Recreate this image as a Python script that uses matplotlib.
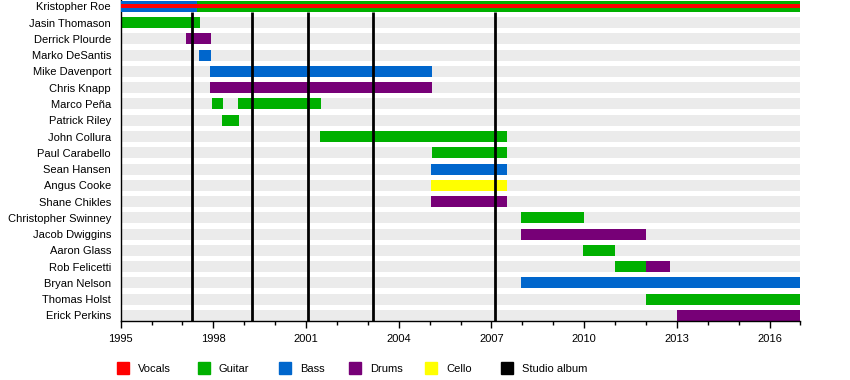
import matplotlib.pyplot as plt
from matplotlib.patches import Rectangle

plt.rcParams['font.family'] = ['Liberation Sans', 'DejaVu Sans']

members = ['Kristopher Roe', 'Jasin Thomason', 'Derrick Plourde', 'Marko DeSantis',
           'Mike Davenport', 'Chris Knapp', 'Marco Peña', 'Patrick Riley',
           'John Collura', 'Paul Carabello', 'Sean Hansen', 'Angus Cooke',
           'Shane Chikles', 'Christopher Swinney', 'Jacob Dwiggins', 'Aaron Glass',
           'Rob Felicetti', 'Bryan Nelson', 'Thomas Holst', 'Erick Perkins']

role_colors = {'Vocals': '#ff0000', 'Guitar': '#00b000', 'Bass': '#0066cc',
               'Drums': '#770077', 'Cello': '#ffff00', 'Studio album': '#000000'}

# (member, role, start, end)
periods = [
    ('Kristopher Roe', 'Bass', 1995.0, 1997.47),
    ('Kristopher Roe', 'Guitar', 1997.47, 2017.0),
    ('Jasin Thomason', 'Guitar', 1995.0, 1997.57),
    ('Derrick Plourde', 'Drums', 1997.11, 1997.92),
    ('Marko DeSantis', 'Bass', 1997.53, 1997.92),
    ('Mike Davenport', 'Bass', 1997.89, 2005.07),
    ('Chris Knapp', 'Drums', 1997.89, 2005.07),
    ('Marco Peña', 'Guitar', 1997.95, 1998.31),
    ('Marco Peña', 'Guitar', 1998.8, 2001.48),
    ('Patrick Riley', 'Guitar', 1998.28, 1998.83),
    ('John Collura', 'Guitar', 2001.45, 2007.49),
    ('Paul Carabello', 'Guitar', 2005.07, 2007.49),
    ('Sean Hansen', 'Bass', 2005.05, 2007.49),
    ('Angus Cooke', 'Cello', 2005.05, 2007.49),
    ('Shane Chikles', 'Drums', 2005.05, 2007.49),
    ('Christopher Swinney', 'Guitar', 2007.95, 2010.0),
    ('Jacob Dwiggins', 'Drums', 2007.95, 2012.0),
    ('Aaron Glass', 'Guitar', 2009.96, 2011.0),
    ('Rob Felicetti', 'Guitar', 2011.0, 2012.0),
    ('Rob Felicetti', 'Drums', 2012.0, 2012.78),
    ('Bryan Nelson', 'Bass', 2007.95, 2017.0),
    ('Thomas Holst', 'Guitar', 2012.0, 2017.0),
    ('Erick Perkins', 'Drums', 2013.0, 2017.0),
]
# vocals overlay (thin middle stripe)
vocals = [('Kristopher Roe', 1995.0, 2017.0)]

albums = [1997.3, 1999.25, 2001.07, 2003.15, 2007.12]

start_year, end_year = 1995, 2017
major_ticks = list(range(1995, 2017, 3))
tick_labels = [str(y) for y in major_ticks]

fig = plt.figure(figsize=(8.5, 3.8), dpi=100)
ax = fig.add_axes([120.7 / 850, 1 - 321 / 380, (800.5 - 120.7) / 850, 321 / 380])

bar_h = 0.68
n = len(members)

# grey background stripes
for i in range(n):
    ax.barh(i, end_year - start_year, left=start_year, height=bar_h,
            color='#ebebeb', zorder=1)

for name, role, s, e in periods:
    z = 5 if members.index(name) == 0 else 2
    ax.barh(members.index(name), e - s, left=s, height=bar_h,
            color=role_colors[role], zorder=z)

# album lines (start below the first row)
for a in albums:
    ax.vlines(a, bar_h / 2, n, color='black', lw=2.0, zorder=3)

for name, s, e in vocals:
    ax.barh(members.index(name), e - s, left=s, height=bar_h * 0.38,
            color=role_colors['Vocals'], zorder=6)

ax.set_xlim(start_year, end_year)
ax.set_ylim(19.34, -0.39)
ax.set_yticks(range(n))
ax.set_yticklabels(members, fontsize=8)
ax.tick_params(axis='y', length=0, pad=7)
ax.set_xticks(major_ticks)
ax.set_xticklabels(tick_labels, fontsize=8)
ax.set_xticks(range(1995, 2018), minor=True)
ax.tick_params(axis='x', which='major', length=5, width=1, pad=4)
ax.tick_params(axis='x', which='minor', length=3, width=1)
for side in ['top', 'right']:
    ax.spines[side].set_visible(False)
ax.spines['left'].set_linewidth(1)
ax.spines['bottom'].set_linewidth(1)

# legend row
leg = fig.add_axes([0, 0, 1, 1])
leg.set_xlim(0, 850)
leg.set_ylim(380, 0)
leg.axis('off')
leg_x = [117, 198, 279, 349, 425, 501]
for x, (label, col) in zip(leg_x, role_colors.items()):
    leg.add_patch(Rectangle((x, 362), 12, 12, color=col))
    leg.text(x + 21, 368.5, label, fontsize=8, va='center', ha='left')

fig.savefig('out.png', dpi=100)
